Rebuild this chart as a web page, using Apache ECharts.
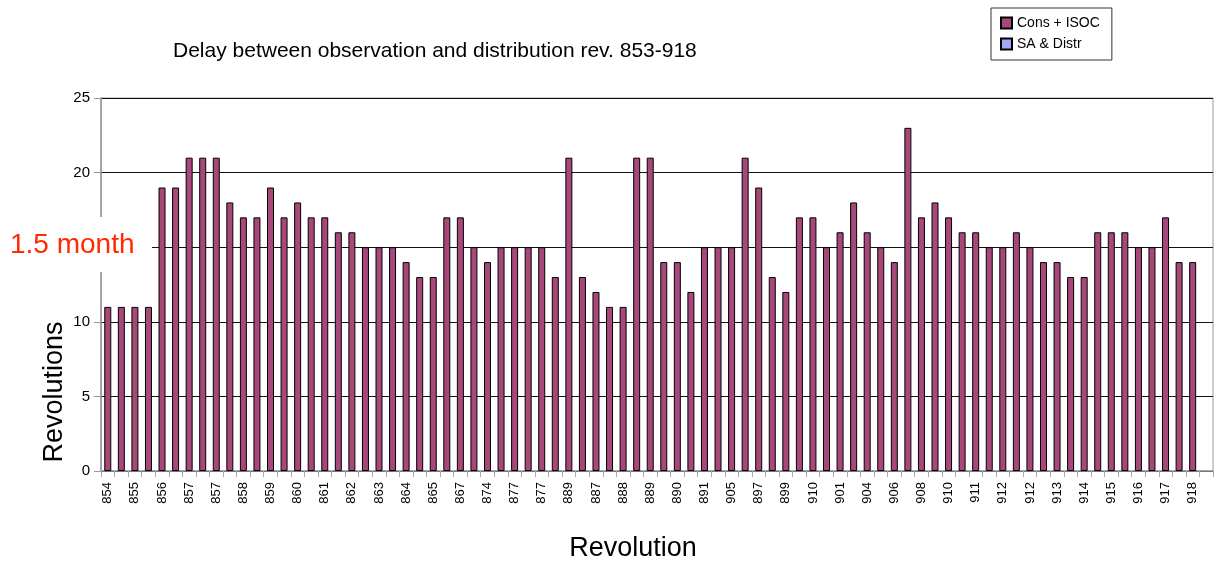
<!DOCTYPE html>
<html>
<head>
<meta charset="utf-8">
<script src="https://cdn.jsdelivr.net/npm/echarts@6/dist/echarts.min.js"></script>
<style>html,body{margin:0;padding:0;background:#fff;}#c{width:1217px;height:562px;}</style>
</head>
<body>
<div id="c"></div>
<script>
var tickLabels = ['854','855','856','857','857','858','859','860','861','862','863','864','865','867',
  '874','877','877','889','887','888','889','890','891','905','897','899','910',
  '901','904','906','908','910','911','912','912','913','914','915','916','917','918'];
var consIsoc = [11,11,11,11,19,19,21,21,21,18,17,17,19,17,18,17,17,16,16,15,15,15,14,13,13,17,17,
  15,14,15,15,15,15,13,21,13,12,11,11,21,21,14,14,12,15,15,15,21,19,13,12,17,17,15,16,
  18,16,15,14,23,17,18,17,16,16,15,15,16,15,14,14,13,13,16,16,16,15,15,17,14,14,'-'];
var saDistr = [];
var categories = [];
for (var i = 0; i < consIsoc.length; i++) {
  categories.push(i % 2 === 0 && tickLabels[i / 2] !== undefined ? tickLabels[i / 2] : '');
  saDistr.push('-');
}
var FONT = 'Liberation Sans, Arial, Helvetica, sans-serif';
var chart = echarts.init(document.getElementById('c'));
chart.setOption({
  animation: false,
  textStyle: { fontFamily: FONT },
  title: {
    text: 'Delay between observation and distribution rev. 853-918',
    left: 168, top: 36,
    textStyle: { fontFamily: FONT, fontSize: 21, fontWeight: 'normal', color: '#000' }
  },
  legend: {
    orient: 'vertical',
    left: 991, top: 8,
    padding: [8, 12, 9, 9],
    itemGap: 7,
    itemWidth: 11, itemHeight: 11,
    borderColor: '#333', borderWidth: 1,
    textStyle: { fontFamily: FONT, fontSize: 14, color: '#000' },
    data: [
      { name: 'Cons + ISOC', icon: 'rect' },
      { name: 'SA & Distr', icon: 'rect' }
    ]
  },
  grid: {
    left: 101, top: 98, right: 4, bottom: 91,
    show: true, borderColor: '#999', borderWidth: 1, backgroundColor: 'transparent'
  },
  xAxis: {
    type: 'category',
    data: categories,
    boundaryGap: true,
    axisLine: { lineStyle: { color: '#999', width: 1.5 } },
    axisTick: { show: true, interval: 0, length: 6, lineStyle: { color: '#aaa' } },
    axisLabel: { interval: 0, rotate: 90, fontSize: 13, color: '#000', margin: 11, fontFamily: FONT },
    splitLine: { show: false }
  },
  yAxis: {
    type: 'value',
    min: 0, max: 25, interval: 5,
    axisLine: { show: true, lineStyle: { color: '#999', width: 1.5 } },
    axisTick: { show: true, length: 7, lineStyle: { color: '#999' } },
    axisLabel: { fontSize: 15, color: '#000', margin: 11, fontFamily: FONT },
    splitLine: { show: true, lineStyle: { color: '#111', width: 1 } }
  },
  series: [
    {
      name: 'Cons + ISOC', type: 'bar', data: consIsoc, barWidth: 7, barGap: '-100%',
      itemStyle: { color: '#A8477A', borderColor: '#000', borderWidth: 1 }
    },
    {
      name: 'SA & Distr', type: 'bar', data: saDistr, barWidth: 7,
      itemStyle: { color: '#A4A6F8', borderColor: '#000', borderWidth: 1 }
    }
  ],
  graphic: [
    {
      type: 'rect', z: 100, shape: { x: 0, y: 217, width: 152, height: 55 },
      style: { fill: '#fff' }
    },
    {
      type: 'text', z: 101, x: 10, y: 245,
      style: { text: '1.5 month', fill: '#FF2A00', fontSize: 28, fontFamily: FONT, verticalAlign: 'middle' }
    },
    {
      type: 'text', z: 101, x: 41, y: 392, rotation: Math.PI / 2,
      style: { text: 'Revolutions', fill: '#000', fontSize: 27, fontFamily: FONT, align: 'center', verticalAlign: 'top' }
    },
    {
      type: 'text', z: 101, x: 633, y: 549,
      style: { text: 'Revolution', fill: '#000', fontSize: 27, fontFamily: FONT, align: 'center', verticalAlign: 'middle' }
    }
  ]
});
</script>
</body>
</html>
